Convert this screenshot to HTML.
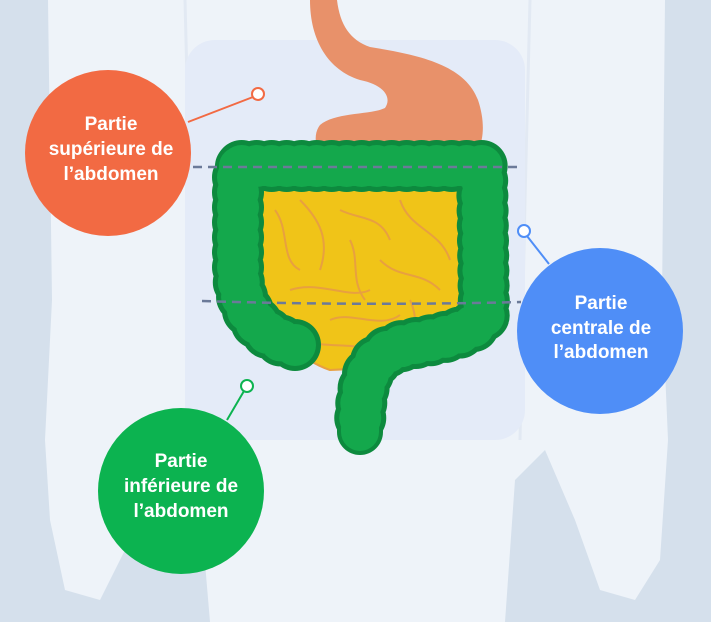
<!DOCTYPE html>
<html><head><meta charset="utf-8"><style>
html,body{margin:0;padding:0;width:711px;height:622px;overflow:hidden;background:#d5e0ec}
svg{display:block}
</style></head><body>
<svg width="711" height="622" viewBox="0 0 711 622" xmlns="http://www.w3.org/2000/svg">
<rect width="711" height="622" fill="#d5e0ec"/>
<!-- body silhouette -->
<path d="M48 0 L665 0 L662 300 L668 440 L660 560 L635 600 L600 590 L575 520 L545 450 L515 480 L505 622 L210 622 L198 480 L165 450 L130 540 L100 600 L65 590 L50 520 L45 440 L52 300 Z" fill="#eef3f9"/>
<path d="M185 0 L190 200 L195 440" stroke="#e2e9f3" stroke-width="3" fill="none"/>
<path d="M530 0 L525 200 L520 440" stroke="#e2e9f3" stroke-width="3" fill="none"/>
<!-- abdomen panel -->
<rect x="185" y="40" width="340" height="400" rx="30" fill="#e4ebf8"/>
<!-- stomach -->
<path d="M310 0 L337 0 C340 25 350 40 370 47 C420 55 465 65 478 100 C488 130 482 155 465 165 L330 160 C315 155 312 135 320 125 C335 112 370 115 385 108 C392 98 385 85 360 80 C328 70 310 40 310 0 Z" fill="#e8916a"/>
<!-- small intestine -->
<path d="M256 182 L466 178 L464 335 C430 360 380 368 330 370 C300 360 270 330 260 300 Z" fill="#f0c418" stroke="#e8a040" stroke-width="2"/>
<g stroke="#e8a040" stroke-width="2" fill="none">
<path d="M275 210 C290 230 280 260 300 270"/><path d="M300 200 C320 220 330 240 320 270"/>
<path d="M340 210 C360 220 380 215 390 240"/><path d="M400 200 C410 230 440 230 450 260"/>
<path d="M290 290 C320 280 350 300 370 290"/><path d="M380 260 C400 280 420 270 440 290"/>
<path d="M330 320 C350 310 380 330 400 315"/><path d="M300 340 C330 350 360 340 380 355"/>
<path d="M410 300 C420 320 410 340 430 345"/><path d="M350 240 C360 260 350 280 365 300"/>
</g>
<!-- colon -->
<g fill="none" stroke-linecap="round" stroke-linejoin="round">
<path id="c" d="M295 345 C262 338 238 310 238 270 L238 166 L482 166 L484 315 C475 332 445 338 410 344 C372 352 360 372 360 432" stroke="#0d8a3e" stroke-width="52" stroke-dasharray="0 15"/>
<path d="M295 345 C262 338 238 310 238 270 L238 166 L482 166 L484 315 C475 332 445 338 410 344 C372 352 360 372 360 432" stroke="#0d8a3e" stroke-width="46"/>
<path d="M295 345 C262 338 238 310 238 270 L238 166 L482 166 L484 315 C475 332 445 338 410 344 C372 352 360 372 360 432" stroke="#14a84c" stroke-width="38"/>
<path d="M295 345 C262 338 238 310 238 270 L238 166 L482 166 L484 315 C475 332 445 338 410 344 C372 352 360 372 360 432" stroke="#14a84c" stroke-width="42" stroke-dasharray="0 15"/>
</g>
<!-- dashed lines -->
<line x1="193" y1="167" x2="519" y2="167" stroke="#6b7a99" stroke-width="2.5" stroke-dasharray="9 6"/>
<path d="M202 301 Q360 306 521 302" fill="none" stroke="#6b7a99" stroke-width="2.5" stroke-dasharray="9 6"/>
<!-- connectors -->
<line x1="188" y1="122" x2="253" y2="97" stroke="#f26a43" stroke-width="2"/>
<circle cx="258" cy="94" r="6" fill="#fff" stroke="#f26a43" stroke-width="2"/>
<line x1="549" y1="264" x2="527" y2="236" stroke="#4f8ef7" stroke-width="2"/>
<circle cx="524" cy="231" r="6" fill="#fff" stroke="#4f8ef7" stroke-width="2"/>
<line x1="227" y1="420" x2="244" y2="391" stroke="#0cb350" stroke-width="2"/>
<circle cx="247" cy="386" r="6" fill="#fff" stroke="#0cb350" stroke-width="2"/>
<!-- circles -->
<circle cx="108" cy="153" r="83" fill="#f26a43"/>
<circle cx="600" cy="331" r="83" fill="#4f8ef7"/>
<circle cx="181" cy="491" r="83" fill="#0cb350"/>
<g font-family="Liberation Sans, sans-serif" font-weight="bold" font-size="19" fill="#fff" text-anchor="middle">
<text x="111" y="130">Partie</text><text x="111" y="155">supérieure de</text><text x="111" y="180">l’abdomen</text>
<text x="601" y="309">Partie</text><text x="601" y="334">centrale de</text><text x="601" y="358">l’abdomen</text>
<text x="181" y="467">Partie</text><text x="181" y="492">inférieure de</text><text x="181" y="517">l’abdomen</text>
</g>
</svg>
</body></html>
